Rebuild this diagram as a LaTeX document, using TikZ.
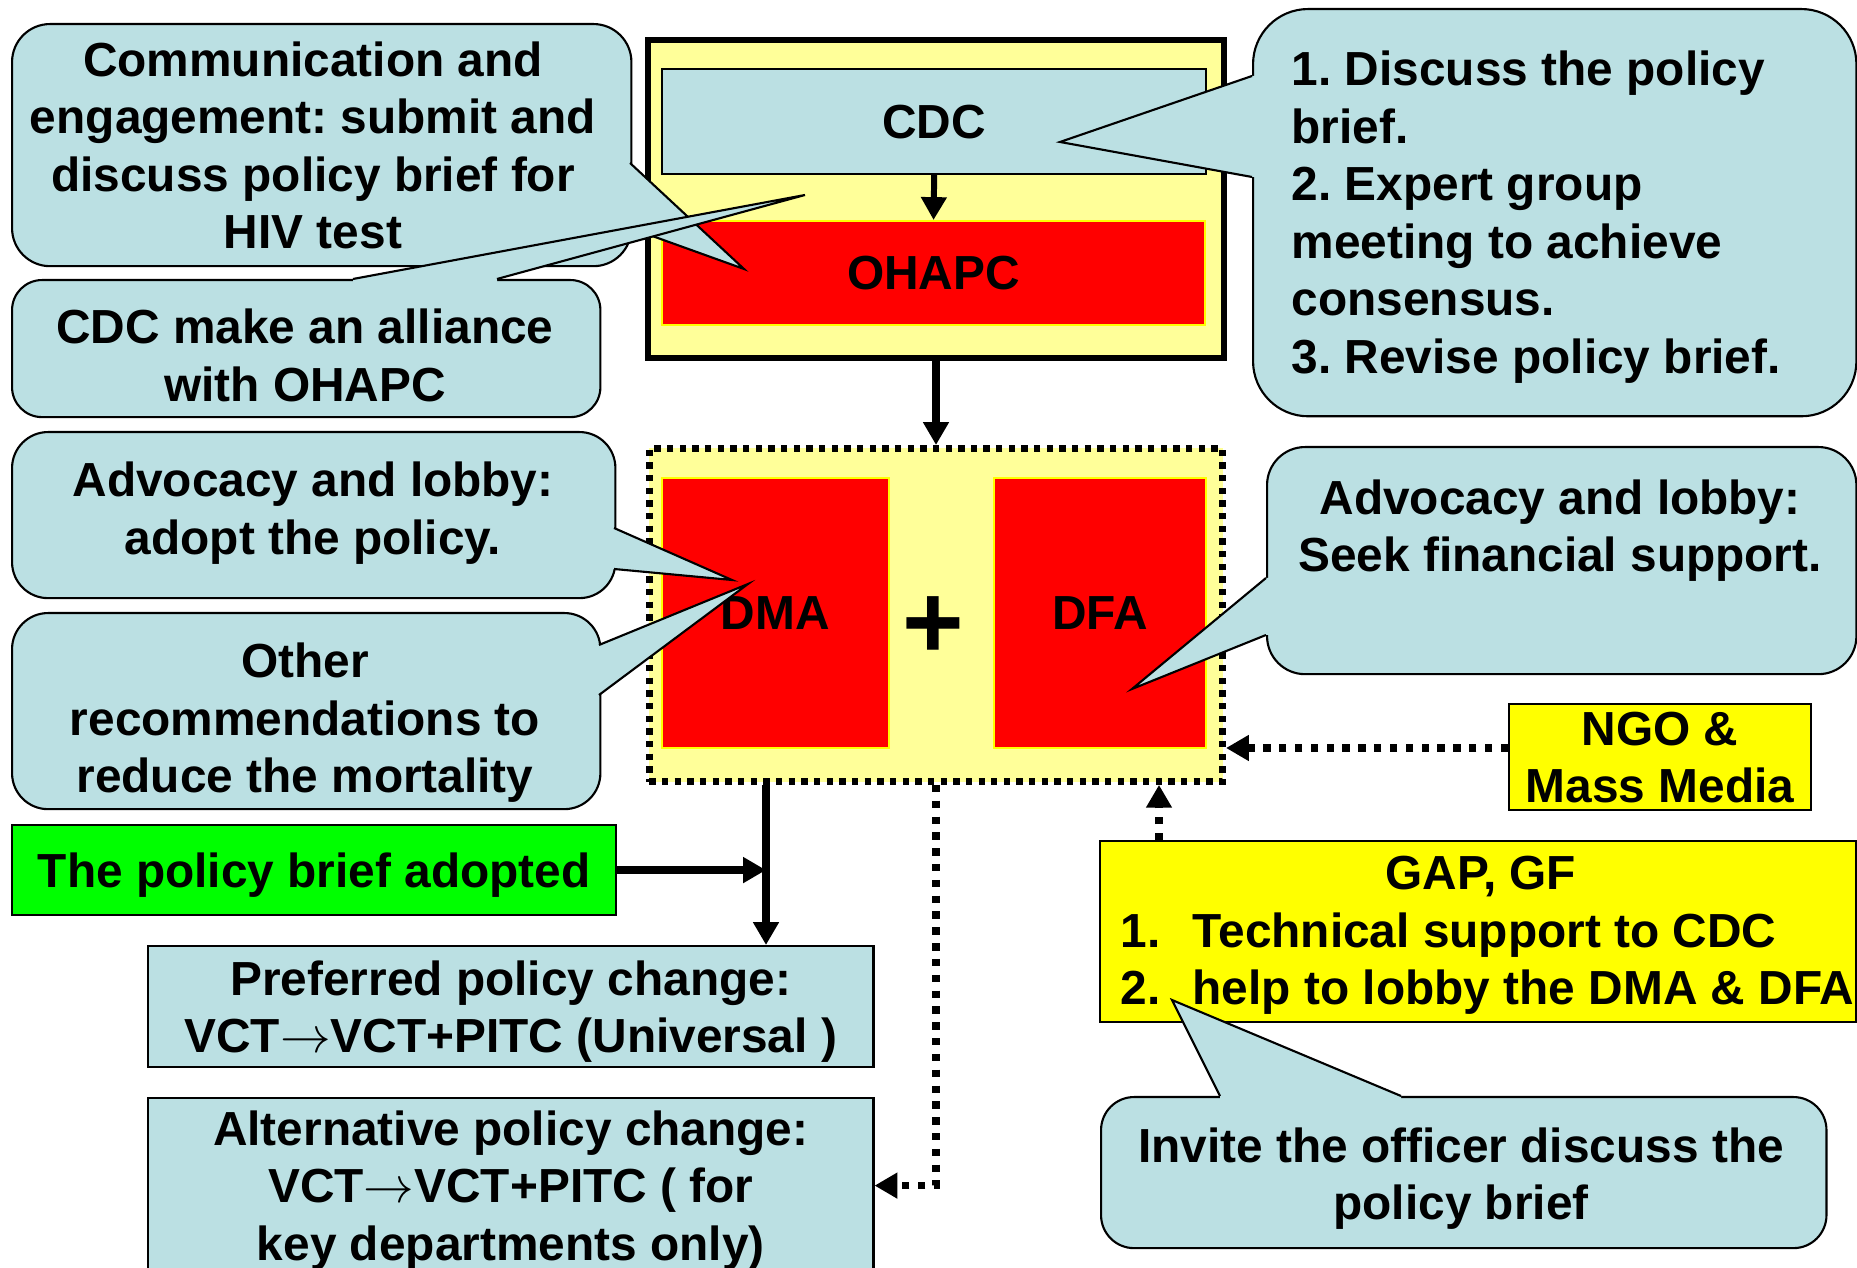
\documentclass[tikz,border=0pt]{standalone}
\usepackage{fontspec}
\setmainfont{Liberation Sans}
\usetikzlibrary{arrows.meta,calc}
\definecolor{lblue}{RGB}{187,224,227}
\definecolor{lyel}{RGB}{255,255,153}
\definecolor{yel}{RGB}{255,255,0}
\definecolor{grn}{RGB}{0,255,0}
\definecolor{rd}{RGB}{255,0,0}
\newcommand\cpointer[4]{%
  \fill[lblue] ($#1+#4$) -- #1 -- #2 -- #3 -- ($#3+#4$) -- cycle;
  \draw[line width=0.6pt] #1 -- #2 -- #3;
}
\newcommand\arr{$\rightarrow$}
\begin{document}
\begin{tikzpicture}[x=0.01cm,y=-0.01cm,
  txt/.style={font=\fontsize{13.6pt}{16.36pt}\selectfont\bfseries\frenchspacing, align=center, text=black, text depth=0pt, inner sep=0pt},
  frame/.style={txt, anchor=north west, inner sep=0pt, draw=black, line width=0.5pt},
  callbox/.style={frame, fill=lblue, rounded corners=0.36cm, line width=0.6pt},
  redbox/.style={frame, fill=rd, draw=yel, line width=0.5pt},
  bluebox/.style={frame, fill=lblue, line width=0.6pt},
  yelbox/.style={frame, fill=yel, line width=0.6pt},
  solidarr/.style={line width=2.2pt, -{Triangle[length=6.5pt,width=7pt]}},
  dotarr/.style={line width=2.2pt, dash pattern=on 2.1pt off 2.4pt, -{Triangle[length=6.5pt,width=7pt]}}
]
\path[use as bounding box] (0,0) rectangle (1857,1268);
\clip (0,0) rectangle (1857,1268);
\fill[white] (0,0) rectangle (1857,1268);

% top group
\node[frame, fill=lyel, line width=1.6pt, minimum width=5.76cm, minimum height=3.18cm] (topbox) at (645,37) {};
\node[bluebox, minimum width=5.44cm, minimum height=1.05cm] (cdc) at (661,68) {CDC};
\node[redbox, minimum width=5.43cm, minimum height=1.04cm] (ohapc) at (661,220) {OHAPC};
\draw[solidarr, line width=1.7pt] (cdc.south) -- (ohapc.north);

% middle group
\node[frame, fill=lyel, line width=1.9pt, dash pattern=on 1.8pt off 1.8pt, minimum width=5.73cm, minimum height=3.33cm] (mid) at (646,445) {};
\node[redbox, minimum width=2.27cm, minimum height=2.70cm] (dma) at (661,477) {DMA};
\node[redbox, minimum width=2.12cm, minimum height=2.70cm] (dfa) at (993,477) {DFA};
\node[txt, font=\fontsize{30pt}{32pt}\selectfont\bfseries] (plus) at (933,628) {+};
\draw[solidarr] (topbox.south) -- (mid.north);

% right boxes
\node[yelbox, minimum width=3.02cm, minimum height=1.06cm] (ngo) at (1508,703) {NGO \&\\Mass Media};
\node[yelbox, minimum width=7.56cm, minimum height=1.81cm] (gap) at (1099,840) {};
\node[txt, align=left, anchor=west] (gaptext) at (1120,930.5)
  {\makebox[7.2cm][c]{GAP, GF}\\\makebox[0.72cm][l]{1.}Technical support to CDC\\\makebox[0.72cm][l]{2.}help to lobby the DMA \& DFA};

% lower left boxes
\node[frame, fill=grn, line width=0.6pt, minimum width=6.04cm, minimum height=0.90cm] (green) at (11,824) {The policy brief adopted};
\node[bluebox, minimum width=7.25cm, minimum height=1.21cm] (pref) at (147,945) {Preferred policy change:\\VCT\arr VCT+PITC (Universal )};
\node[bluebox, minimum width=7.25cm, minimum height=1.75cm] (alt) at (147,1097) {Alternative policy change:\\VCT\arr VCT+PITC ( for\\key departments only)};

% connectors
\draw[solidarr] (mid.south -| 766,0) -- (pref.north -| 766,0);
\draw[solidarr] (green.east) -- (green.east -| 766,0);
\draw[dotarr] (mid.south) |- (alt.east);
\draw[dotarr] (ngo.west |- 0,748) -- (mid.east |- 0,748);
\draw[dotarr] (gap.north -| 1159,0) -- (mid.south -| 1159,0);

% callouts
\node[callbox, rounded corners=0.38cm, minimum width=6.19cm, minimum height=2.42cm] (c1) at (11,23) {};
\node[txt] (c1t) at (313,145) {Communication and\\engagement: submit and\\discuss policy brief for\\HIV test};
\cpointer{(630,163)}{(744,269)}{(630,228)}{(-4,0)}
\node[callbox, rounded corners=0.3cm, minimum width=5.88cm, minimum height=1.37cm] (c2) at (11,279) {};
\node[txt] (c2t) at (305,355) {CDC make an alliance\\with OHAPC};
\cpointer{(353,279)}{(805,195)}{(497,279)}{(0,4)}
\node[callbox, minimum width=6.03cm, minimum height=1.66cm] (c3) at (11,431) {};
\node[txt] (c3t) at (313,508) {Advocacy and lobby:\\adopt the policy.};
\cpointer{(614,528)}{(732,580)}{(614,569)}{(-4,0)}
\node[callbox, minimum width=5.88cm, minimum height=1.96cm] (c4) at (11,612) {};
\node[txt] (c4t) at (305,718) {Other\\recommendations to\\reduce the mortality};
\cpointer{(599,645)}{(748,584)}{(599,695)}{(-4,0)}
\node[callbox, rounded corners=0.55cm, minimum width=6.03cm, minimum height=4.07cm] (r1) at (1252,8) {};
\node[txt, align=left, anchor=west] (r1t) at (1291,212) {1. Discuss the policy\\brief.\\2. Expert group\\meeting to achieve\\consensus.\\3. Revise policy brief.};
\cpointer{(1252,76)}{(1060,142)}{(1252,177)}{(4,0)}
\node[callbox, rounded corners=0.38cm, minimum width=5.89cm, minimum height=2.27cm] (r2) at (1266,446) {};
\node[txt] (r2t) at (1560,525.5) {Advocacy and lobby:\\Seek financial support.};
\cpointer{(1266,578)}{(1132,689)}{(1266,635)}{(4,0)}
\node[callbox, rounded corners=0.33cm, minimum width=7.25cm, minimum height=1.51cm] (b1) at (1100,1096) {};
\node[txt] (b1t) at (1461,1173.5) {Invite the officer discuss the\\policy brief};
\cpointer{(1220,1096)}{(1172,1000)}{(1401,1096)}{(0,4)}
\end{tikzpicture}
\end{document}
